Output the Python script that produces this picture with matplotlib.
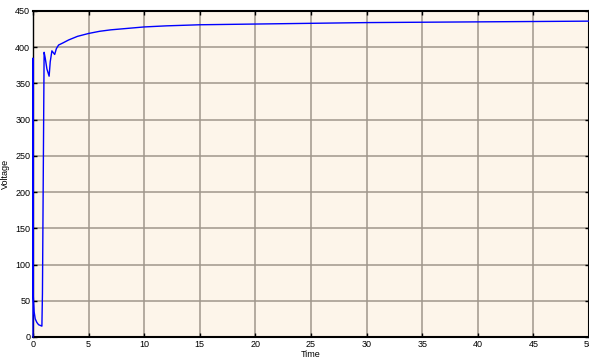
import matplotlib
matplotlib.use("Agg")
from matplotlib import pyplot as plt

# voltage response
time = [0.0, 0.0, 0.02, 0.1, 0.2, 0.35, 0.5, 0.65, 0.8, 0.85, 1.0, 1.1, 1.25, 1.45, 1.55,
        1.7, 1.8, 1.95, 2.1, 2.3, 2.7, 3.2, 4.0, 5.0, 6.0, 7.0, 8.5, 10.0, 12.0, 15.0,
        20.0, 25.0, 30.0, 35.0, 40.0, 45.0, 50.0]
voltage = [0, 385, 58, 35, 25, 20, 17, 16, 15, 60, 393, 385, 370, 360, 380,
           395, 393, 390, 398, 403, 406, 410, 415, 419, 422, 424, 426, 428, 429.5, 431,
           432, 433, 434, 434.5, 435, 435.5, 436]

xticks = [0, 5, 10, 15, 20, 25, 30, 35, 40, 45, 50]
yticks = [0, 50, 100, 150, 200, 250, 300, 350, 400, 450]

plt.rcParams['font.family'] = ['Liberation Sans', 'DejaVu Sans']

fig = plt.figure(figsize=(5.89, 3.63), dpi=100)
ax = fig.add_axes([33 / 589, 26 / 363, 556 / 589, 326 / 363])
ax.set_facecolor('#fdf5ea')

ax.plot(time, voltage, color='#0000ff', linewidth=1.0, zorder=3, clip_on=False)

ax.set_xlim(0, 50)
ax.set_ylim(0, 450)
ax.set_xticks(xticks)
ax.set_yticks(yticks)
ax.grid(True, color='#a0978c', linewidth=1.1)
ax.set_axisbelow(True)

ax.tick_params(direction='in', length=3, width=1, labelsize=6.5, colors='black', pad=2)
ax.tick_params(axis='x', top=True)
ax.tick_params(axis='y', right=True)

for side in ['top', 'bottom']:
    ax.spines[side].set_linewidth(1.5)
ax.spines['left'].set_linewidth(1.0)
ax.spines['right'].set_linewidth(1.5)

ax.set_xlabel('Time', fontsize=6.5, labelpad=1)
ax.set_ylabel('Voltage', fontsize=6.5, labelpad=4)

fig.savefig('out.png', dpi=100)
